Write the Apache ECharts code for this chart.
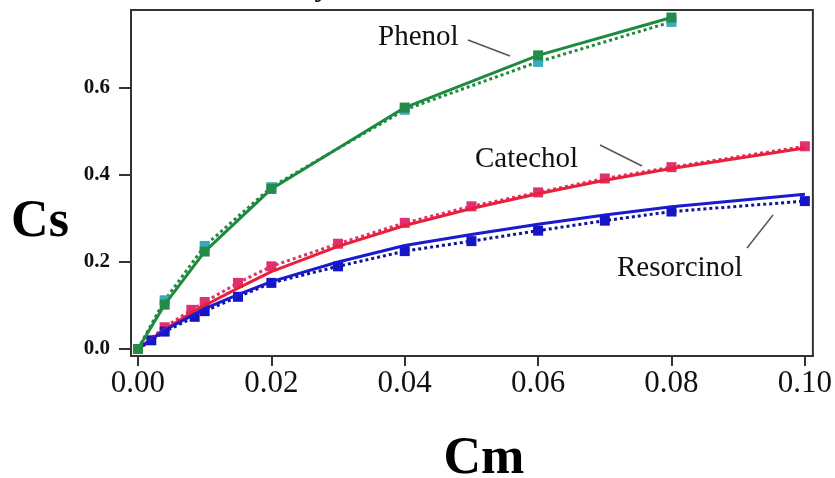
<!DOCTYPE html>
<html>
<head>
<meta charset="utf-8">
<script src="https://cdn.jsdelivr.net/npm/echarts@6/dist/echarts.min.js"></script>
<style>
html,body{margin:0;padding:0;background:#fff;}
#chart{width:835px;height:478px;}
</style>
</head>
<body>
<div id="chart"></div>
<script>
// ---- data ----
const xTicks = [0, 0.02, 0.04, 0.06, 0.08, 0.10];
const yTicks = [0, 0.2, 0.4, 0.6];

const cmPhenol = [0, 0.004, 0.01, 0.02, 0.04, 0.06, 0.08];
const phenolExp = [0, 0.112, 0.237, 0.372, 0.550, 0.660, 0.752];
const phenolFit = [0, 0.102, 0.224, 0.368, 0.555, 0.675, 0.762];

const cmCatechol = [0, 0.004, 0.008, 0.01, 0.015, 0.02, 0.03, 0.04, 0.05, 0.06, 0.07, 0.08, 0.10];
const catecholExp = [0, 0.050, 0.090, 0.108, 0.152, 0.190, 0.242, 0.290, 0.328, 0.360, 0.392, 0.418, 0.466];
const catecholFit = [0, 0.045, 0.083, 0.100, 0.140, 0.178, 0.236, 0.284, 0.323, 0.357, 0.388, 0.415, 0.462];

const cmResorcinol = [0, 0.002, 0.004, 0.0085, 0.01, 0.015, 0.02, 0.03, 0.04, 0.05, 0.06, 0.07, 0.08, 0.10];
const resorcinolExp = [0, 0.020, 0.040, 0.074, 0.087, 0.120, 0.152, 0.190, 0.225, 0.248, 0.272, 0.295, 0.316, 0.340];
const resorcinolFit = [0, 0.022, 0.043, 0.080, 0.093, 0.125, 0.155, 0.200, 0.238, 0.263, 0.287, 0.308, 0.327, 0.356];

const zip = (xs, ys) => xs.map((x, i) => [x, ys[i]]);
const SERIF = "'Liberation Serif', 'Times New Roman', serif";

const chart = echarts.init(document.getElementById('chart'), null, {renderer: 'canvas'});

function dotted(name, xs, ys, lineColor, markColor) {
  return {
    name, type: 'line', data: zip(xs, ys),
    symbol: 'rect', symbolSize: 10,
    itemStyle: {color: markColor},
    lineStyle: {color: lineColor, width: 3, type: [3, 3]},
    z: 3, animation: false
  };
}
function solid(name, xs, ys, color, withMarks, markColor) {
  return {
    name, type: 'line', data: zip(xs, ys),
    smooth: false,
    symbol: withMarks ? 'rect' : 'none', symbolSize: 10,
    itemStyle: {color: markColor || color},
    lineStyle: {color, width: 3},
    z: 4, animation: false
  };
}

chart.setOption({
  animation: false,
  backgroundColor: '#fff',
  grid: {left: 131, right: 20, top: 10, bottom: 122, show: true, borderColor: '#333', borderWidth: 2, backgroundColor: 'transparent'},
  xAxis: {
    type: 'value', min: -0.001046, max: 0.1012,
    axisLine: {show: true, onZero: false, lineStyle: {color: '#333', width: 2}},
    axisTick: {show: true, inside: false, length: 10, customValues: xTicks, lineStyle: {color: '#333', width: 2}},
    axisLabel: {customValues: xTicks, formatter: v => v.toFixed(2), margin: 12,
      fontFamily: SERIF, fontSize: 31, color: '#111'},
    splitLine: {show: false}
  },
  yAxis: {
    type: 'value', min: -0.0161, max: 0.7793,
    axisLine: {show: true, onZero: false, lineStyle: {color: '#333', width: 2}},
    axisTick: {show: true, inside: false, length: 12, customValues: yTicks, lineStyle: {color: '#333', width: 2}},
    axisLabel: {customValues: yTicks, formatter: v => v.toFixed(1), margin: 21,
      fontFamily: SERIF, fontSize: 21, fontWeight: 'bold', color: '#111'},
    splitLine: {show: false}
  },
  series: [
    dotted('Phenol exp', cmPhenol, phenolExp, '#1e8a3e', '#3aa8c0'),
    solid('Phenol fit', cmPhenol, phenolFit, '#1e8a3e', true, '#238c4a'),
    dotted('Catechol exp', cmCatechol, catecholExp, '#e0306e', '#e0306e'),
    solid('Catechol fit', cmCatechol, catecholFit, '#e8203a', false),
    dotted('Resorcinol exp', cmResorcinol, resorcinolExp, '#12129a', '#1515c8'),
    solid('Resorcinol fit', cmResorcinol, resorcinolFit, '#1a1ad0', false)
  ],
  graphic: [
    {type: 'text', x: 318, y: -27, style: {text: 'y', font: "italic bold 30px " + SERIF, fill: '#111'}},
    {type: 'text', x: 40, y: 223, style: {text: 'Cs', font: "bold 52px " + SERIF, fill: '#000', textAlign: 'center', textVerticalAlign: 'middle'}},
    {type: 'text', x: 484, y: 460, style: {text: 'Cm', font: "bold 52px " + SERIF, fill: '#000', textAlign: 'center', textVerticalAlign: 'middle'}},
    {type: 'text', x: 378, y: 37, style: {text: 'Phenol', font: "29px " + SERIF, fill: '#111', textVerticalAlign: 'middle'}},
    {type: 'text', x: 475, y: 159, style: {text: 'Catechol', font: "29px " + SERIF, fill: '#111', textVerticalAlign: 'middle'}},
    {type: 'text', x: 617, y: 268, style: {text: 'Resorcinol', font: "29px " + SERIF, fill: '#111', textVerticalAlign: 'middle'}},
    {type: 'line', shape: {x1: 468, y1: 40, x2: 510, y2: 56}, style: {stroke: '#555', lineWidth: 1.5}},
    {type: 'line', shape: {x1: 600, y1: 145, x2: 642, y2: 166}, style: {stroke: '#555', lineWidth: 1.5}},
    {type: 'line', shape: {x1: 747, y1: 248, x2: 773, y2: 215}, style: {stroke: '#555', lineWidth: 1.5}}
  ]
});
</script>
</body>
</html>
